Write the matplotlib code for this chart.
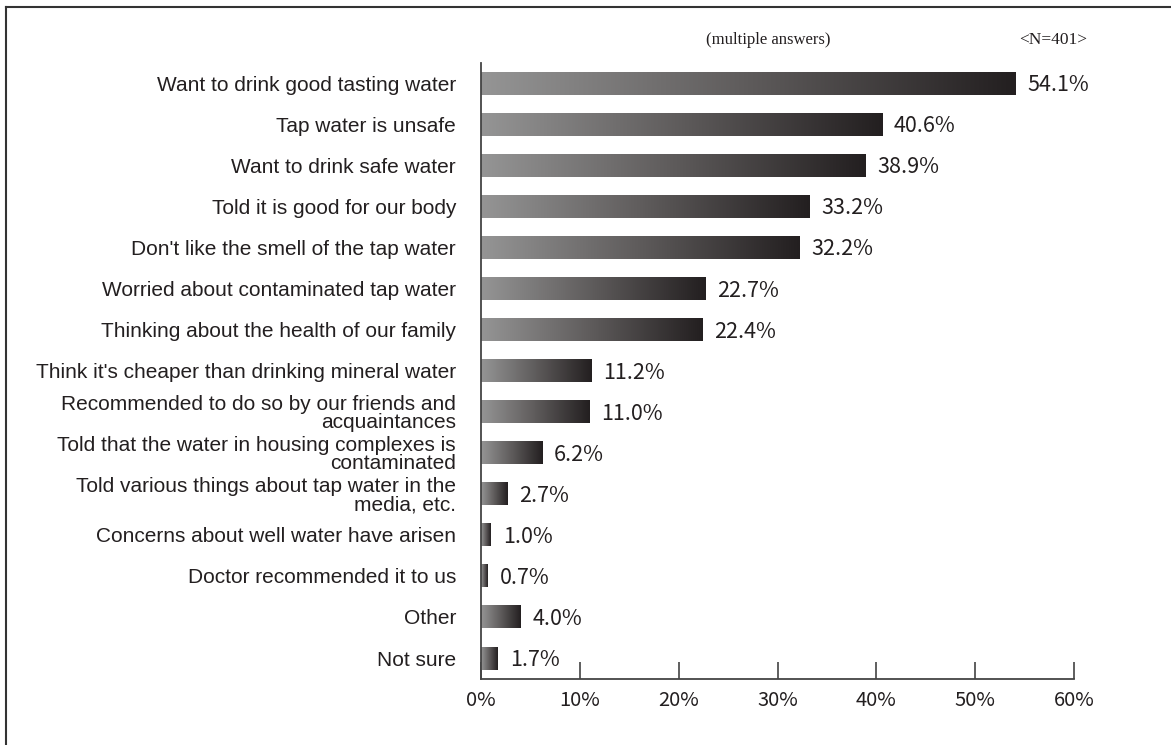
import matplotlib
matplotlib.use("Agg")
import matplotlib.pyplot as plt, numpy as np
from matplotlib.colors import LinearSegmentedColormap
from matplotlib.lines import Line2D

labels = [
	"Want to drink good tasting water",
	"Tap water is unsafe",
	"Want to drink safe water",
	"Told it is good for our body",
	"Don't like the smell of the tap water",
	"Worried about contaminated tap water",
	"Thinking about the health of our family",
	"Think it's cheaper than drinking mineral water",
	"Recommended to do so by our friends and\nacquaintances",
	"Told that the water in housing complexes is\ncontaminated",
	"Told various things about tap water in the\nmedia, etc.",
	"Concerns about well water have arisen",
	"Doctor recommended it to us",
	"Other",
	"Not sure",
]
values = [54.1, 40.6, 38.9, 33.2, 32.2, 22.7, 22.4, 11.2, 11.0, 6.2, 2.7, 1.0, 0.7, 4.0, 1.7]
xticks = [0, 10, 20, 30, 40, 50, 60]

ink = "#231f20"
cmap = LinearSegmentedColormap.from_list("bar", ["#959595", "#5e5b5b", "#231f20"])
grad = np.linspace(0, 1, 256).reshape(1, -1)

fig = plt.figure(figsize=(11.71, 7.45), dpi=100)
ax = fig.add_axes([481 / 1171, 66 / 745, (1074 - 481) / 1171, (682 - 66) / 745])

bar_h = 0.56
for i, v in enumerate(values):
	# each bar gets its own gray-to-black gradient
	ax.imshow(grad, cmap=cmap, aspect="auto", interpolation="bilinear",
		extent=(0, v, i + bar_h / 2, i - bar_h / 2), zorder=2)
	ax.text(v + 1.2, i + 0.05, "%.1f%%" % v, va="center", ha="left", fontsize=15.5,
		family=["Noto Sans CJK JP", "DejaVu Sans"], color=ink)

ax.set_xlim(0, 60)
ax.set_ylim(len(values) - 0.49, -0.49)
ax.set_yticks(range(len(values)))
ax.set_yticklabels(labels, fontsize=15, family="Liberation Sans", color=ink, linespacing=0.98)
ax.tick_params(axis="y", length=0, pad=18)
ax.set_xticks(xticks)
ax.set_xticklabels(["%d%%" % t for t in xticks], fontsize=14.5,
	family=["Noto Sans CJK JP", "DejaVu Sans"], color=ink)
ax.tick_params(axis="x", direction="in", length=12.5, width=1.1, color="#333333", pad=8)

for s in ["top", "right"]:
	ax.spines[s].set_visible(False)
for s in ["left", "bottom"]:
	ax.spines[s].set_color("#444444")
	ax.spines[s].set_linewidth(1.3)

fig.text(768 / 1171, 1 - 40 / 745, "(multiple answers)", ha="center", va="center",
	fontsize=12, family="Liberation Serif", color=ink)
fig.text(1053 / 1171, 1 - 40 / 745, "<N=401>", ha="center", va="center",
	fontsize=12.5, family="Liberation Serif", color=ink)

# frame lines on top and left of the picture
fig.add_artist(Line2D([6 / 1171, 1], [1 - 7 / 745, 1 - 7 / 745], color="#333333", lw=1.5))
fig.add_artist(Line2D([6 / 1171, 6 / 1171], [0, 1 - 7 / 745], color="#333333", lw=1.5))

fig.savefig("out.png", dpi=100)
